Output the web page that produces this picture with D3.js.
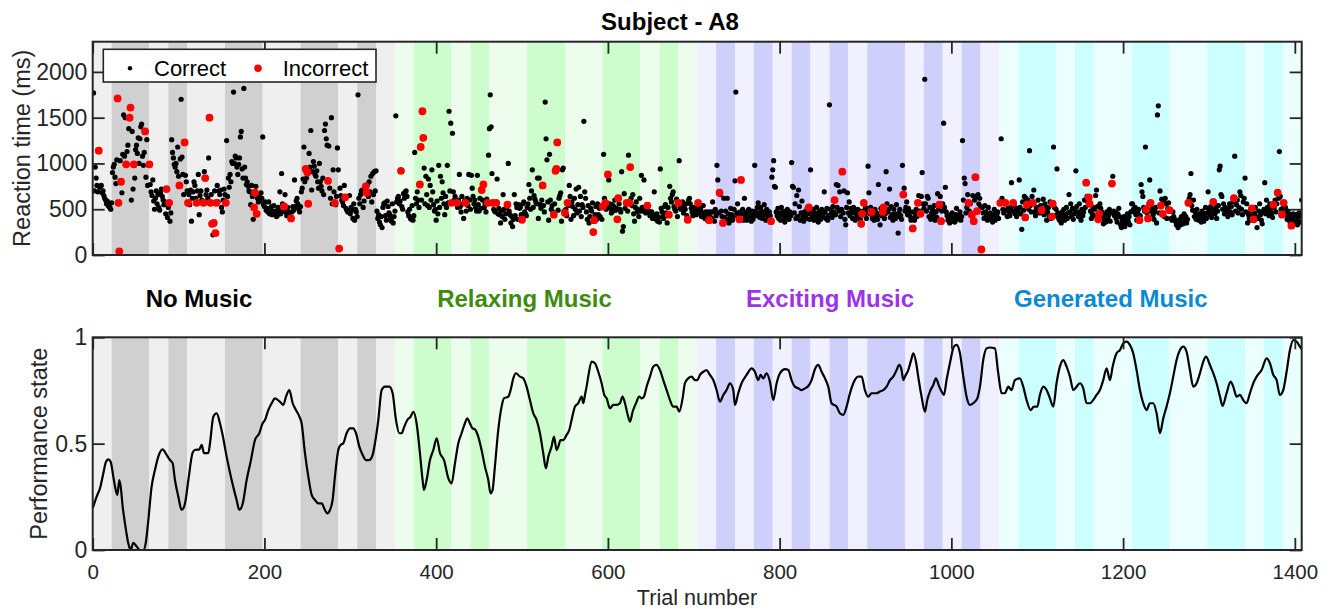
<!DOCTYPE html>
<html>
<head>
<meta charset="utf-8">
<script src="https://cdn.jsdelivr.net/npm/d3@7"></script>
<style>
  body { margin: 0; background: #fff; }
  svg { display: block; font-family: "Liberation Sans", Arial, Helvetica, sans-serif; }
</style>
</head>
<body>
<svg id="chart" width="1331" height="609"></svg>
<script>
// ---- Conditions and block layout (trial numbers) ----
const sectionNames = ["No Music", "Relaxing Music", "Exciting Music", "Generated Music"];
const sectionStarts = [0, 352, 704, 1056];
// block edges inside each section, relative to its start (light / dark alternate)
const blockEdgesA = [0, 22, 66, 88, 110, 154, 198, 242, 286, 308, 330, 352];
const blockEdgesB = [0, 22, 44, 66, 88, 110, 132, 154, 176, 198, 242, 264, 286, 308, 330, 352];
const sectionBlockEdges = [blockEdgesA, blockEdgesA, blockEdgesB, blockEdgesA];

// ---- Reaction times (ms), one value per trial, 352 trials per condition ----
const rtNoMusic = [
  1770,700,960,840,760,690,1140,740,750,760,680,700,650,620,600,560,590,540,530,520,500,570,
  900,960,990,850,780,1040,1710,570,40,1030,800,680,1100,1530,1080,1500,990,1130,1200,1380,1500,1610,
  600,1350,720,990,840,1150,1200,1110,1280,1000,1270,1400,1430,1080,980,1120,1350,850,1260,760,980,990,
  770,690,650,820,590,500,620,700,560,660,520,490,680,720,640,600,550,580,450,720,410,520,
  570,370,460,1260,1120,1060,990,960,1000,910,1180,860,760,1050,1700,1070,880,660,1230,870,800,700,
  570,660,550,710,370,620,690,800,760,620,570,700,880,440,650,700,600,590,570,910,840,660,
  710,620,1060,1500,570,660,340,220,350,700,240,570,760,580,700,660,710,520,470,600,720,660,
  570,1250,640,840,740,880,800,1020,1000,1780,1000,1080,1060,960,880,990,1060,1290,1350,940,840,1820,
  960,840,770,800,750,700,690,550,760,640,390,520,680,750,450,620,580,660,590,680,620,1290,
  550,530,580,490,510,470,580,450,500,530,440,460,540,480,470,420,430,520,480,690,450,890,
  560,480,530,660,470,430,520,470,440,410,400,470,530,490,820,530,590,620,560,500,470,530,
  690,730,830,1180,800,940,840,900,560,1110,960,1360,710,910,1020,970,880,860,920,800,730,1000,
  800,750,700,840,660,1360,1430,1270,1200,810,1190,730,620,1500,560,930,690,570,550,640,1170,930,
  70,730,650,600,580,540,760,630,510,490,470,480,650,450,520,490,400,560,380,500,470,420,
  1750,620,560,660,700,710,520,590,720,750,680,770,640,800,690,860,580,890,660,910,700,920,
  480,400,440,360,330,420,300,520,560,570,430,380,590,530,460,440,400,370,560,350,420,480
];
const rtRelaxing = [
  1520,580,620,640,560,590,920,530,500,670,620,690,700,640,470,430,500,400,390,540,380,430,
  1120,620,560,690,600,520,770,1180,600,1570,1280,950,560,860,660,540,830,520,760,600,930,690,
  550,480,500,380,590,450,980,520,860,620,800,680,560,440,640,520,980,570,1570,700,1440,570,
  1330,690,600,640,560,570,520,600,880,530,470,640,560,400,590,570,480,620,540,880,600,500,
  870,730,640,560,600,520,480,870,550,480,620,510,710,600,770,520,560,470,610,570,1090,1380,
  1750,1400,890,570,500,480,470,570,830,450,510,440,350,480,420,660,500,390,450,520,550,1000,
  480,440,350,420,310,390,660,430,560,520,390,550,510,520,440,385,560,580,470,450,430,520,
  560,770,620,500,700,930,520,650,610,580,560,840,400,840,550,510,600,760,540,470,1670,1270,
  1040,580,380,1100,600,500,540,470,440,560,920,940,1230,490,620,650,680,370,930,950,480,460,
  500,430,570,540,760,640,390,580,530,430,620,500,720,460,550,740,480,640,420,550,520,1460,
  690,620,470,390,540,350,420,510,480,570,250,380,440,530,390,560,440,510,420,520,390,530,
  1100,620,570,500,540,880,820,560,510,460,550,480,530,600,490,510,390,620,560,500,470,910,
  260,310,670,510,560,570,480,1090,570,960,620,540,660,450,370,520,580,470,500,420,620,480,
  870,520,480,820,500,460,510,540,470,480,430,450,470,400,440,690,420,390,450,370,410,360,
  940,510,470,420,400,530,550,460,350,520,440,750,620,580,660,690,530,500,480,610,420,570,
  1030,520,500,550,580,460,520,500,560,430,385,600,620,560,510,470,430,520,480,470,440,510
];
const rtExciting = [
  570,510,460,500,420,460,540,440,400,470,430,380,470,380,420,470,400,580,470,370,500,430,
  980,820,460,680,660,480,420,350,620,410,480,390,620,450,350,400,510,440,380,420,500,810,
  1780,460,560,420,390,470,820,450,500,380,620,420,460,380,480,500,420,450,370,480,390,440,
  980,480,430,520,570,460,410,520,480,400,440,550,460,380,500,430,390,470,430,370,850,930,
  1030,750,740,470,430,510,400,460,380,520,440,470,400,360,480,440,500,410,390,470,430,1010,
  750,740,460,560,400,650,420,710,530,380,460,590,420,370,470,440,400,510,450,520,390,930,
  470,420,500,380,460,430,520,400,360,470,440,390,500,420,450,690,470,400,510,380,430,1640,
  500,450,410,530,470,600,440,770,520,760,480,690,420,500,910,460,700,390,330,520,680,460,
  580,430,510,470,400,520,460,380,490,430,500,420,480,390,340,450,480,570,440,520,400,470,
  970,680,450,520,470,400,430,380,500,420,460,390,770,440,330,510,430,470,520,400,450,910,
  560,470,500,720,410,530,440,380,500,450,400,550,420,240,460,500,430,390,980,660,730,480,
  520,580,440,510,470,420,380,470,290,400,380,450,500,420,570,650,480,450,640,900,560,510,
  1920,560,480,640,620,420,520,390,460,500,430,540,380,470,410,670,500,550,640,370,480,560,
  1440,520,740,470,430,380,410,350,440,390,460,370,420,360,440,510,390,430,400,470,380,420,
  1250,600,840,780,460,520,660,570,480,560,430,440,650,370,600,850,640,480,660,560,620,530,
  60,520,460,400,540,470,430,380,520,410,460,390,430,360,450,500,380,420,440,470,400,560
];
const rtGenerated = [
  570,1270,620,500,460,560,570,490,420,510,470,430,520,790,480,570,540,450,500,420,510,470,
  820,520,450,280,580,490,640,410,620,550,600,500,1140,540,470,640,570,710,470,430,520,490,
  600,520,460,540,490,480,610,440,560,510,380,470,520,430,580,400,420,560,1180,520,430,500,
  940,460,400,380,430,350,470,420,500,380,440,520,400,460,660,470,560,420,510,390,450,480,
  920,530,470,420,560,450,380,500,430,470,600,520,790,640,580,630,560,480,400,450,520,430,
  500,650,710,530,390,450,560,510,470,420,340,380,440,360,470,400,430,500,370,460,780,860,
  480,430,470,400,360,450,510,420,330,300,380,350,420,310,340,390,450,370,420,330,470,560,
  560,500,470,520,440,380,460,500,380,430,770,690,640,520,480,1180,500,460,400,560,820,570,
  480,510,440,390,470,520,350,1530,1630,460,700,540,610,450,590,420,620,560,400,510,570,490,
  480,400,380,470,420,390,370,330,350,300,360,390,330,420,370,340,450,380,420,350,390,570,
  620,660,890,540,490,600,420,470,390,500,430,380,450,400,360,480,420,370,450,520,400,460,
  690,500,440,530,410,470,580,490,450,520,400,480,540,930,970,660,640,500,560,450,520,480,
  460,420,510,560,470,530,440,580,620,1080,480,550,600,460,520,690,650,500,440,580,620,840,
  470,560,350,440,400,480,380,510,430,390,460,520,420,300,400,480,560,440,380,340,470,500,
  790,450,600,520,480,430,560,500,460,410,550,520,600,470,560,680,620,1130,640,500,440,510,
  570,460,520,440,390,480,420,370,440,320,400,450,360,420,380,440,330,410,460,360,420,600
];

// ---- Trials answered incorrectly ----
const incorrectTrials = [
  7,29,30,31,33,39,43,44,48,61,66,86,89,101,107,111,121,129,131,136,137,139,141,143,144,155,
  188,189,191,223,231,248,250,251,274,282,287,294,318,319,
  359,381,382,384,385,418,424,434,453,455,460,466,470,483,500,524,537,539,540,541,550,553,
  583,584,594,597,600,611,612,622,625,626,646,671,682,693,
  705,718,730,734,753,755,790,834,864,873,895,896,898,907,920,921,944,955,961,964,986,988,
  1020,1024,1026,1028,1030,1035,
  1057,1063,1072,1086,1088,1095,1105,1117,1118,1157,1160,1161,1171,1172,1187,1219,1227,1229,
  1232,1244,1246,1254,1276,1305,1329,1350,1352,1375,1380,1385,1387,1396
];

// ---- Estimated performance state over trials ----
const perfTrial = [
  0,4.6,8.5,12.4,15.5,18.2,20.9,24,26,28.7,31,32.6,34.9,37.6,41.5,44.2,47.3,51.2,55.1,59,62,64.8,
  68.6,72.5,76.4,81.4,86.1,90,93.1,95.8,99.7,103.6,107.5,111.4,116.4,119.1,124.2,126.9,129.6,134.7,136.6,
  140.5,144.3,148.2,151.3,156,161.8,167.6,170.7,174.6,179.3,183.9,189,194,197.9,200.6,204.5,208.4,212.3,
  218.1,222,225.1,229,232.9,235.6,240.7,243.3,247.2,251.1,255,258.9,262.8,266.6,270.5,273.2,276.3,279.4,
  282.1,286,288.7,291.9,295.7,299.6,303.5,306.6,310.5,314.4,318.2,322.1,326,328.7,332.6,336.5,340.4,
  345.4,349.3,353.2,357.1,359.8,362.9,366.4,370.3,373.4,377.2,381.1,384.2,385.8,388.9,392.8,396.7,400.6,
  404.5,409.1,414.2,418,421.9,425.8,429.6,433.5,436.2,439.3,442.4,445.2,449,452.9,456.8,460.7,463.4,
  465.7,468.4,472.3,476.2,478.9,484,486.7,489.8,492.9,497.6,501.4,505.3,509.2,513.1,517,520.9,524.7,
  527.8,530.6,534.4,537.2,540.3,542.2,544.9,548,551.9,555,557.7,561.6,565.5,569.4,571.3,573.3,575.2,
  577.1,581,584.9,588.8,592.7,595.8,598.5,602.4,606.3,610.1,614,617.1,619.9,622.6,625.7,628.8,632.7,
  636.5,639.3,642,645.1,649,652.8,656.7,660.6,664.5,668.4,672.3,676.1,680,683.1,687,689.7,693.6,697.5,
  701.4,704.1,707.2,711.1,715,718.8,722.7,726.6,730.5,734.4,738.2,742.1,746,748,751.8,755.7,761.5,
  767.4,771.2,775.1,777.8,781,784.8,788.7,792.6,796.5,800.4,806.2,810.1,813.9,817.8,821.7,825.6,829.5,
  833.4,837.2,841.1,845,848.9,852.8,856.6,860.5,866.4,870.2,874.1,878,881.9,885.8,891.6,895.5,899.3,
  903.2,907.1,912.9,916.8,920.7,924.6,928.5,932.3,936.2,939.3,942,944,945.9,949.8,953.7,955.6,958.7,
  961.4,965.3,969.2,971.9,975,978.9,982,985.9,988.6,991.3,994.4,998.3,1003,1006.1,1010,1013.9,1017.7,
  1021.6,1025.5,1030.2,1033.3,1037.1,1041,1044.9,1050.7,1054.6,1058.5,1062.4,1066.3,1070.1,1074,1079.8,
  1083.7,1087.6,1092.3,1096.1,1100,1103.1,1107,1110.9,1114.8,1118.7,1122.5,1126.4,1130.3,1134.2,1138.1,
  1142,1145.8,1149.7,1153.6,1157.5,1161.4,1165.2,1169.1,1173,1176.9,1180.8,1184.7,1187.8,1192.4,1196.3,
  1200.2,1204.1,1208,1211.8,1215.7,1219.6,1223.5,1227.4,1231.2,1235.1,1239,1242.9,1246.8,1250.6,1254.5,
  1258.4,1262.3,1266.2,1270.1,1273.9,1277.8,1281.7,1285.6,1289.5,1293.4,1296.5,1301.1,1305,1308.9,
  1312.8,1315.9,1320.5,1325.2,1328.3,1332.2,1336.1,1339.9,1343.8,1347.7,1351.6,1355.5,1361.3,1367.1,
  1371,1374.9,1378.8,1382.6,1386.5,1390.4,1394.3,1398.2,1402,1405.9,1407.9
];
const perfState = [
  0.196,0.251,0.290,0.361,0.415,0.426,0.415,0.345,0.298,0.259,0.329,0.298,0.204,0.125,0.031,0,0.034,0.016,0,0,0.039,0.141,
  0.298,0.376,0.439,0.473,0.447,0.423,0.408,0.329,0.251,0.188,0.219,0.329,0.458,0.470,0.473,0.494,0.455,0.455,0.502,
  0.627,0.643,0.596,0.541,0.439,0.329,0.235,0.188,0.216,0.329,0.415,0.517,0.549,0.596,0.611,0.658,0.690,0.713,
  0.697,0.682,0.721,0.752,0.690,0.666,0.627,0.596,0.455,0.345,0.259,0.235,0.219,0.219,0.188,0.172,0.188,0.235,
  0.345,0.470,0.494,0.502,0.549,0.572,0.572,0.549,0.486,0.447,0.423,0.423,0.447,0.502,0.611,0.752,0.768,
  0.768,0.737,0.611,0.549,0.549,0.580,0.611,0.627,0.650,0.596,0.455,0.329,0.282,0.329,0.423,0.470,0.525,
  0.455,0.423,0.337,0.313,0.408,0.502,0.549,0.596,0.619,0.596,0.572,0.567,0.533,0.470,0.392,0.329,0.266,
  0.282,0.392,0.564,0.674,0.713,0.721,0.752,0.807,0.831,0.815,0.807,0.768,0.705,0.643,0.611,0.549,0.455,
  0.384,0.439,0.486,0.533,0.470,0.486,0.517,0.517,0.541,0.564,0.611,0.674,0.690,0.721,0.690,0.729,0.768,
  0.815,0.886,0.878,0.838,0.784,0.729,0.713,0.666,0.682,0.682,0.690,0.721,0.690,0.643,0.603,0.650,0.690,
  0.721,0.713,0.721,0.768,0.815,0.862,0.870,0.846,0.799,0.752,0.705,0.674,0.674,0.650,0.713,0.784,0.807,0.815,
  0.799,0.799,0.823,0.838,0.846,0.823,0.799,0.752,0.697,0.729,0.752,0.784,0.752,0.682,0.737,0.784,0.823,
  0.854,0.838,0.799,0.823,0.807,0.831,0.791,0.705,0.784,0.831,0.850,0.846,0.799,0.768,0.760,0.752,0.760,
  0.771,0.799,0.850,0.870,0.838,0.807,0.768,0.690,0.674,0.643,0.635,0.674,0.737,0.784,0.815,0.815,0.752,
  0.721,0.737,0.737,0.745,0.752,0.768,0.799,0.815,0.846,0.870,0.846,0.799,0.815,0.846,0.901,0.925,0.886,
  0.815,0.721,0.650,0.705,0.745,0.776,0.807,0.768,0.745,0.729,0.799,0.878,0.956,0.964,0.925,0.815,0.721,
  0.682,0.690,0.713,0.768,0.893,0.948,0.952,0.948,0.831,0.737,0.737,0.768,0.752,0.799,0.807,
  0.768,0.705,0.658,0.674,0.674,0.729,0.768,0.752,0.713,0.674,0.784,0.862,0.893,0.862,0.815,
  0.752,0.768,0.784,0.760,0.690,0.690,0.705,0.729,0.752,0.799,0.854,0.799,0.862,0.925,0.940,
  0.972,0.980,0.964,0.925,0.846,0.752,0.690,0.658,0.690,0.690,0.643,0.549,0.619,0.674,0.737,
  0.815,0.893,0.940,0.956,0.932,0.846,0.768,0.784,0.831,0.886,0.909,0.870,0.831,0.784,
  0.721,0.677,0.737,0.792,0.768,0.721,0.729,0.705,0.690,0.737,0.784,0.815,0.846,0.901,
  0.878,0.823,0.799,0.729,0.752,0.838,0.940,0.987,0.980,0.956,0.944
];

// ---- Styles ----
const bandColors = [
  ["#efefef", "#d0d0d0"],
  ["#edfded", "#cdfccd"],
  ["#f0f0fe", "#cfcffb"],
  ["#ebffff", "#ccffff"]
];
const sectionLabelColors = ["#000000", "#3f8a10", "#9a33ea", "#0a8ad0"];
const axisColor = "#262626";

// ---- Layout ----
const svg = d3.select("#chart");
const x = d3.scaleLinear().domain([0, 1408]).range([92.7, 1301.7]);
const yRT = d3.scaleLinear().domain([0, 2330]).range([255, 41.7]);
const yPerf = d3.scaleLinear().domain([0, 1]).range([550, 337.3]);
const xTicks = [0, 200, 400, 600, 800, 1000, 1200, 1400];
const rtTicks = [0, 500, 1000, 1500, 2000];
const perfTicks = [0, 0.5, 1];
const tickLen = 12;

const trials = [];
[rtNoMusic, rtRelaxing, rtExciting, rtGenerated].forEach((arr, s) => {
  arr.forEach((v, i) => trials.push({ t: sectionStarts[s] + i + 1, rt: v }));
});
const wrong = new Set(incorrectTrials);
const perf = perfTrial.map((t, i) => ({ t, s: perfState[i] }));

const defs = svg.append("defs");
function clip(id, y) {
  const [y0, y1] = [y.range()[1], y.range()[0]];
  defs.append("clipPath").attr("id", id).append("rect")
    .attr("x", x.range()[0]).attr("y", y0)
    .attr("width", x.range()[1] - x.range()[0]).attr("height", y1 - y0);
}
clip("clipTop", yRT);
clip("clipBot", yPerf);

function drawBands(g, y) {
  const top = y.range()[1], bottom = y.range()[0];
  sectionStarts.forEach((start, s) => {
    const edges = sectionBlockEdges[s];
    for (let i = 0; i < edges.length - 1; i++) {
      g.append("rect")
        .attr("x", x(start + edges[i]))
        .attr("y", top)
        .attr("width", x(start + edges[i + 1]) - x(start + edges[i]))
        .attr("height", bottom - top)
        .attr("fill", bandColors[s][i % 2]);
    }
  });
}

function drawFrame(y, yTicks, showXLabels, yFont) {
  const top = y.range()[1], bottom = y.range()[0];
  const left = x.range()[0], right = x.range()[1];
  const g = svg.append("g");
  const style = sel => {
    sel.select(".domain").remove();
    sel.selectAll(".tick line").attr("stroke", axisColor).attr("stroke-width", 1.8);
    sel.selectAll("text").attr("fill", axisColor);
  };
  const xb = g.append("g").attr("transform", `translate(0,${bottom})`)
    .call(d3.axisBottom(x).tickValues(xTicks).tickSize(-tickLen).tickFormat(showXLabels ? d3.format("d") : () => ""))
    .call(style);
  xb.selectAll("text").attr("y", 29).attr("dy", 0).attr("font-size", 20.5)
    .attr("font-family", "Liberation Sans, Arial, sans-serif");
  g.append("g").attr("transform", `translate(0,${top})`)
    .call(d3.axisTop(x).tickValues(xTicks).tickSize(-tickLen).tickFormat(() => ""))
    .call(style);
  const yl = g.append("g").attr("transform", `translate(${left},0)`)
    .call(d3.axisLeft(y).tickValues(yTicks).tickSize(-tickLen).tickFormat(d => d3.format("")(d)))
    .call(style);
  yl.selectAll("text").attr("x", -5.4).attr("font-size", yFont)
    .attr("font-family", "Liberation Sans, Arial, sans-serif");
  g.append("g").attr("transform", `translate(${right},0)`)
    .call(d3.axisRight(y).tickValues(yTicks).tickSize(-tickLen).tickFormat(() => ""))
    .call(style);
  g.append("rect").attr("x", left).attr("y", top)
    .attr("width", right - left).attr("height", bottom - top)
    .attr("fill", "none").attr("stroke", axisColor).attr("stroke-width", 2);
}

// ---- Top panel: reaction times ----
const gTop = svg.append("g").attr("clip-path", "url(#clipTop)");
drawBands(gTop, yRT);
gTop.selectAll("circle.ok").data(trials.filter(d => !wrong.has(d.t))).join("circle")
  .attr("class", "ok").attr("cx", d => x(d.t)).attr("cy", d => yRT(d.rt))
  .attr("r", 2.6).attr("fill", "#000");
gTop.selectAll("circle.bad").data(trials.filter(d => wrong.has(d.t))).join("circle")
  .attr("class", "bad").attr("cx", d => x(d.t)).attr("cy", d => yRT(d.rt))
  .attr("r", 3.9).attr("fill", "#ff0000");
drawFrame(yRT, rtTicks, false, 23);

// legend
const lg = svg.append("g");
lg.append("rect").attr("x", 103.3).attr("y", 49.3).attr("width", 272.7).attr("height", 32.7)
  .attr("fill", "#fff").attr("stroke", axisColor).attr("stroke-width", 1.6);
lg.append("circle").attr("cx", 130).attr("cy", 68.3).attr("r", 2.2).attr("fill", "#000");
lg.append("text").attr("x", 154).attr("y", 75.5).attr("font-size", 22).attr("fill", "#000").text("Correct");
lg.append("circle").attr("cx", 258).attr("cy", 68.3).attr("r", 3.8).attr("fill", "#ff0000");
lg.append("text").attr("x", 282.7).attr("y", 75.5).attr("font-size", 22).attr("fill", "#000").text("Incorrect");

// ---- Bottom panel: performance state ----
const gBot = svg.append("g").attr("clip-path", "url(#clipBot)");
drawBands(gBot, yPerf);
gBot.append("path").datum(perf)
  .attr("fill", "none").attr("stroke", "#000").attr("stroke-width", 2.2)
  .attr("stroke-linejoin", "round")
  .attr("d", d3.line().x(d => x(d.t)).y(d => yPerf(d.s)).curve(d3.curveMonotoneX));
drawFrame(yPerf, perfTicks, true, 23);

// ---- Titles and labels ----
svg.append("text").attr("x", 670).attr("y", 29.5).attr("text-anchor", "middle")
  .attr("font-size", 24).attr("font-weight", "bold").attr("fill", "#000").text("Subject - A8");

const sectionLabelX = [199, 524.5, 830, 1110.8];
sectionNames.forEach((name, i) => {
  svg.append("text").attr("x", sectionLabelX[i]).attr("y", 307).attr("text-anchor", "middle")
    .attr("font-size", 24).attr("font-weight", "bold").attr("fill", sectionLabelColors[i]).text(name);
});

svg.append("text").attr("transform", "translate(29.5,148.3) rotate(-90)").attr("text-anchor", "middle")
  .attr("font-size", 23.5).attr("fill", axisColor).text("Reaction time (ms)");
svg.append("text").attr("transform", "translate(46.7,443.7) rotate(-90)").attr("text-anchor", "middle")
  .attr("font-size", 23.5).attr("fill", axisColor).text("Performance state");
svg.append("text").attr("x", 697).attr("y", 605).attr("text-anchor", "middle")
  .attr("font-size", 21.6).attr("fill", axisColor).text("Trial number");
</script>
</body>
</html>
